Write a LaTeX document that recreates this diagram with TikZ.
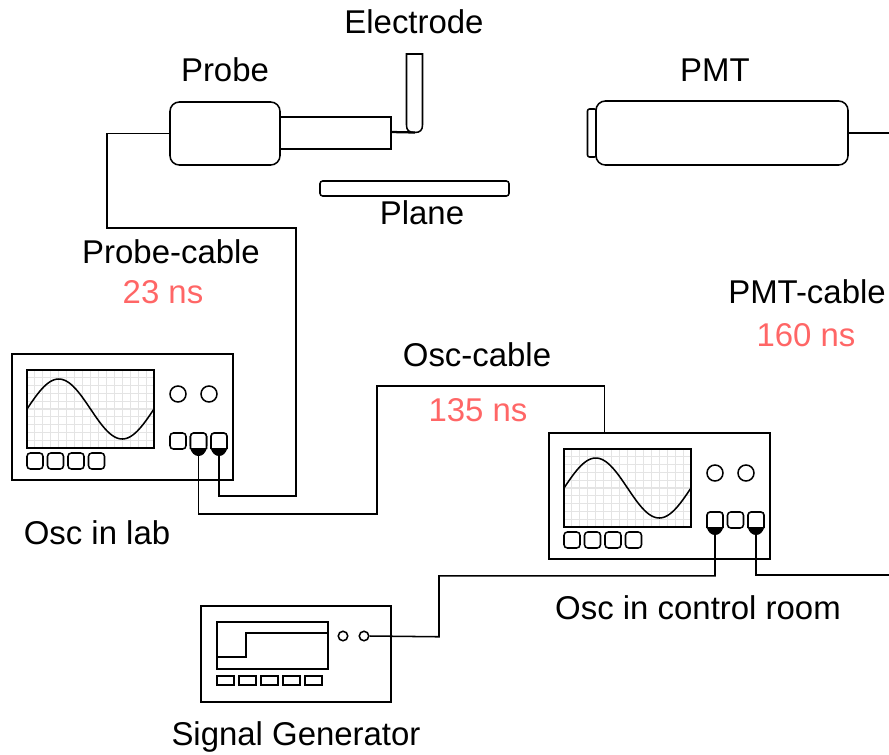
\documentclass[tikz,border=0pt]{standalone}
\usepackage{fontspec}
\setmainfont{Liberation Sans}
\usepackage{xcolor}
\definecolor{DelayRed}{HTML}{FF6666}
\definecolor{GridGrey}{HTML}{E4E4E4}
\usetikzlibrary{positioning}
\tikzset{
  part/.style 2 args={draw=black, line width=1.15pt, fill=white, inner sep=0pt,
    minimum width=#1*0.75pt, minimum height=#2*0.75pt},
  roundpart/.style 2 args={part={#1}{#2}, rounded corners=7pt},
  btn/.style={roundpart={16}{16}, rounded corners=2.5pt},
  knob/.style={draw=black, line width=1.15pt, fill=white, circle, inner sep=0pt,
    minimum size=#1*0.75pt},
  wire/.style={draw=black, line width=1.15pt},
  tag/.style={font=\fontsize{24.7}{28}\selectfont, inner sep=0pt, anchor=base},
  delaytag/.style={tag, text=DelayRed},
  scope/.pic={
    \node[part={221}{126}] (-frame) at (110.5,63) {};
    \foreach \i in {1,...,15}
      \draw[GridGrey, line width=0.8pt] ({15+\i*7.94},16) -- ({15+\i*7.94},94);
    \foreach \i in {1,...,9}
      \draw[GridGrey, line width=0.8pt] (15,{16+\i*7.8}) -- (142,{16+\i*7.8});
    \node[part={127}{78}, fill=none] (-screen) at (78.5,55) {};
    \draw[wire, domain=0:127, samples=70, smooth]
      plot ({\x+15}, {55-30*sin(\x/127*360)});
    \node[knob=16] (-knoba) at (166,40) {};
    \node[knob=16] (-knobb) at (197,40) {};
    \foreach \i/\xc in {a/166, b/186.5, c/207}
      \node[btn] (-port\i) at (\xc,87) {};
    \foreach \i/\xc in {1/23, 2/43.5, 3/64, 4/84.5}
      \node[btn] (-key\i) at (\xc,107) {};
  },
  plug/.pic={
    \draw[wire, fill=white, rounded corners=2.5pt] (-8,8) -- (-8,-8) -- (8,-8) -- (8,8);
    \fill[black] (-8.4,7) .. controls (-7,12) and (-4,15) .. (0,15)
      .. controls (4,15) and (7,12) .. (8.4,7) -- cycle;
  }
}
\begin{document}
\begin{tikzpicture}[x=0.75pt, y=-0.75pt]
  \useasboundingbox (0,0) rectangle (889,754);
  % probe side
  \node[part={111}{32}] (tube) at (335.5,133) {};
  \node[roundpart={110}{63}] (probe) at (225,133.5) {};
  \node[part={189}{15}, rounded corners=2pt] (plane) at (414.5,188.5) {};
  \coordinate (tubetip) at (391,132);
  \coordinate (electrodefoot) at (415,132.5);
  \draw[wire, fill=white] (406.5,54) -- (422.5,54) -- (422.5,125)
    .. controls (422.5,130) and (420,132.5) .. (415,132.5)
    .. controls (408.5,132.5) and (406.5,130) .. (406.5,125) -- cycle;
  \draw[wire, line width=1.7pt] (tubetip) -- (electrodefoot);
  % pmt
  \node[part={9}{48}, rounded corners=1.5pt] (window) at (592,133) {};
  \node[roundpart={252}{64}] (pmt) at (722,133) {};
  % oscilloscopes
  \pic (lab) at (12,354) {scope};
  \pic (room) at (549,433) {scope};
  \pic at (lab-portb) {plug};
  \pic at (lab-portc) {plug};
  \pic at (room-porta) {plug};
  \pic at (room-portc) {plug};
  % signal generator
  \node[part={190}{96}] (gen) at (296,654) {};
  \node[part={111}{47}] (genscreen) at (272.5,645.5) {};
  \coordinate (steplow) at (217,657);
  \coordinate (stephigh) at (328,633);
  \draw[wire] (steplow) -- ++(29,0) |- (stephigh);
  \node[knob=9.5] (genknoba) at (343,636) {};
  \node[knob=9.5] (genknobb) at (364,636) {};
  \foreach \i/\xc in {1/225.5, 2/247.5, 3/269.5, 4/291.5, 5/313.5}
    \node[part={17}{9}] (genkey\i) at (\xc,680.5) {};
  % cables
  \coordinate (roomin) at (604.5,433);
  \coordinate (roomexit) at (889,575);
  \coordinate (pmtexit) at (889,133);
  \draw[wire] (probe.west) -- ++(-62.5,0) -- ++(0,94.5) -- ++(189,0) -- ++(0,268) -| (lab-portc.south);
  \draw[wire] (lab-portb.south) -- ++(0,64) -- ++(178.5,0) -- ++(0,-128) -| (roomin);
  \draw[wire] (room-porta.south) -- ++(0,47) -- ++(-276,0) -- ++(0,61) -- (genknobb.east);
  \draw[wire] (room-portc.south) |- (roomexit);
  \draw[wire] (pmt.east) -- (pmtexit);
  % labels
  \node[tag] (electrodetag) at (414,33) {Electrode};
  \node[tag] (probetag) at (225,81) {Probe};
  \node[tag] (pmttag) at (715,81) {PMT};
  \node[tag] (planetag) at (422,224) {Plane};
  \node[tag] (probecable) at (171,263) {Probe-cable};
  \node[delaytag] (probedelay) at (163,303.5) {23 ns};
  \node[tag] (pmtcable) at (807,303) {PMT-cable};
  \node[delaytag] (pmtdelay) at (806,346) {160 ns};
  \node[tag] (osccable) at (477,366) {Osc-cable};
  \node[delaytag] (oscdelay) at (478,421) {135 ns};
  \node[tag] (labtag) at (97,544) {Osc in lab};
  \node[tag] (roomtag) at (698,619) {Osc in control room};
  \node[tag] (gentag) at (296,745) {Signal Generator};
\end{tikzpicture}
\end{document}
